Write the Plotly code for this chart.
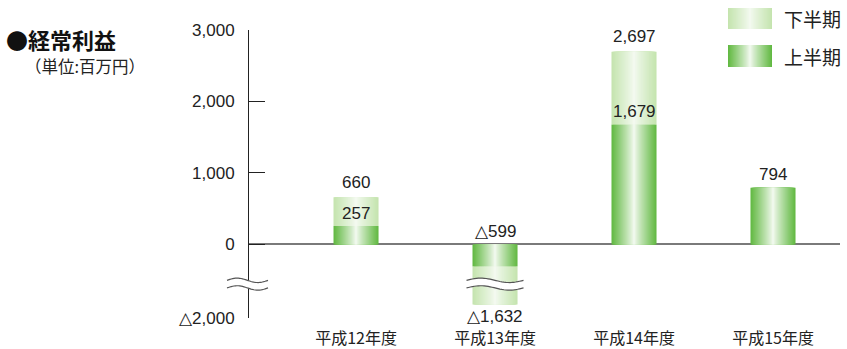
import numpy as np
import plotly.graph_objects as go

# ---- data (百万円) ----
categories = ["平成12年度", "平成13年度", "平成14年度", "平成15年度"]
first_half = [257, -599, 1679, 794]        # 上半期
full_year = [660, -1632, 2697, None]       # 通期 (上半期 + 下半期)
tick_values = [3000, 2000, 1000, 0, -2000]

# ---- layout constants ----
W, H = 847, 349
M_L, M_R, M_T, M_B = 249, 7, 30, 31
NEG_SCALE = 0.515          # negative side of the axis is compressed (broken axis)
BREAK_AT = -1080           # where the axis break is drawn
BAR_W = 0.324
X_RANGE = [-0.77, 3.482]
N_LAYERS = 24

NUM_FONT = "Liberation Sans, Arial, sans-serif"
JP_FONT = "Noto Sans CJK JP, sans-serif"
TXT = "#222222"

DARK_EDGE = np.array([96, 184, 64])
LIGHT_EDGE = np.array([196, 228, 174])
CENTER = np.array([244, 250, 241])


def to_axis(v):
    return v if v >= 0 else v * NEG_SCALE


def fmt(v):
    s = f"{abs(v):,}"
    return "△" + s if v < 0 else s


def shade(edge, t):
    m = t ** 0.9
    c = CENTER * (1 - m) + edge * m
    return "rgb(%d,%d,%d)" % tuple(np.round(c).astype(int))


y_min = to_axis(min(tick_values))
y_max = max(tick_values)
plot_w = W - M_L - M_R
plot_h = H - M_T - M_B


def px_x(px):
    return (px - M_L) / plot_w


def px_y(py):
    return (H - M_B - py) / plot_h


def axis_to_paper_y(v):
    return (v - y_min) / (y_max - y_min)


xs = list(range(len(categories)))
fig = go.Figure()

# light segments (下半期) span from first-half value to full-year value
lx, lbase, lh = [], [], []
for i, (a, b) in enumerate(zip(first_half, full_year)):
    if b is not None:
        lx.append(i)
        lbase.append(to_axis(a))
        lh.append(to_axis(b) - to_axis(a))
dy = [to_axis(v) for v in first_half]

# gradient: narrower, lighter bars stacked over wider, greener ones
for k in range(N_LAYERS):
    frac = 1 - k / N_LAYERS
    t = frac - 0.5 / N_LAYERS
    fig.add_trace(go.Bar(x=xs, y=dy, base=[0] * len(xs), width=BAR_W * frac,
                         marker=dict(color=shade(DARK_EDGE, t), line=dict(width=0)),
                         hoverinfo="skip"))
    fig.add_trace(go.Bar(x=lx, y=lh, base=lbase, width=BAR_W * frac,
                         marker=dict(color=shade(LIGHT_EDGE, t), line=dict(width=0)),
                         hoverinfo="skip"))

LABEL_FONT = dict(family=NUM_FONT, size=17, color=TXT)
annotations = []
# value labels
for i, (a, b) in enumerate(zip(first_half, full_year)):
    annotations.append(dict(x=i, y=to_axis(max(a, 0)), text=fmt(a), showarrow=False,
                            yanchor="middle", yshift=13, font=LABEL_FONT))
    if b is not None:
        annotations.append(dict(x=i, y=to_axis(b), text=fmt(b), showarrow=False,
                                yanchor="middle", yshift=15 if b > 0 else -12,
                                font=LABEL_FONT))

# title
annotations.append(dict(xref="paper", yref="paper", x=px_x(4), y=px_y(39),
                        xanchor="left", yanchor="middle", showarrow=False,
                        text="<b>●経常利益</b>",
                        font=dict(family=JP_FONT, size=22, color="#111111")))
annotations.append(dict(xref="paper", yref="paper", x=px_x(23), y=px_y(66),
                        xanchor="left", yanchor="middle", showarrow=False,
                        text="（単位:百万円）",
                        font=dict(family=JP_FONT, size=16.5, color=TXT)))

shapes = []
# legend swatches
legend_items = [("下半期", LIGHT_EDGE, 8, 29), ("上半期", DARK_EDGE, 45, 67)]
sx0, sx1 = 728, 772
for label, edge, py0, py1 in legend_items:
    cx = (sx0 + sx1) / 2
    half = (sx1 - sx0) / 2
    for k in range(N_LAYERS):
        frac = 1 - k / N_LAYERS
        t = frac - 0.5 / N_LAYERS
        shapes.append(dict(type="rect", xref="paper", yref="paper",
                           x0=px_x(cx - half * frac), x1=px_x(cx + half * frac),
                           y0=px_y(py1), y1=px_y(py0),
                           fillcolor=shade(edge, t), line=dict(width=0), layer="above"))
    annotations.append(dict(xref="paper", yref="paper", x=px_x(782), y=px_y((py0 + py1) / 2),
                            xanchor="left", yanchor="middle", showarrow=False, text=label,
                            font=dict(family=JP_FONT, size=19, color=TXT)))


def wave_path(x0, x1, yc, amp, n=30):
    t = np.linspace(0, 1, n)
    wx = x0 + (x1 - x0) * t
    wy = yc + amp * np.sin(2 * np.pi * t)
    return wx, wy


def add_break(x0, x1, yc, gap, amp, xref, yref):
    ax, ay = wave_path(x0, x1, yc + gap, amp)
    bx, by = wave_path(x0, x1, yc - gap, amp)
    fill = "M " + " L ".join(f"{x},{y}" for x, y in zip(ax, ay))
    fill += " L " + " L ".join(f"{x},{y}" for x, y in zip(bx[::-1], by[::-1])) + " Z"
    shapes.append(dict(type="path", path=fill, xref=xref, yref=yref,
                       fillcolor="white", line=dict(width=0), layer="above"))
    for wx, wy in ((ax, ay), (bx, by)):
        p = "M " + " L ".join(f"{x},{y}" for x, y in zip(wx, wy))
        shapes.append(dict(type="path", path=p, xref=xref, yref=yref,
                           line=dict(color="#555555", width=1.2), layer="above"))


# break across the bar that passes the axis break
brk = to_axis(BREAK_AT)
unit_per_px = (y_max - y_min) / plot_h
for i, b in enumerate(full_year):
    if b is not None and b < BREAK_AT:
        add_break(i - 0.205, i + 0.205, brk, 3.8 * unit_per_px, 2.2 * unit_per_px, "x", "y")
# break on the value axis
add_break(px_x(227), px_x(268), axis_to_paper_y(brk), 3.8 / plot_h, 2.2 / plot_h,
          "paper", "paper")

fig.update_layout(
    width=W, height=H,
    margin=dict(l=M_L, r=M_R, t=M_T, b=M_B, autoexpand=False),
    paper_bgcolor="white", plot_bgcolor="white",
    barmode="overlay", showlegend=False,
    annotations=annotations, shapes=shapes,
    xaxis=dict(range=X_RANGE, tickvals=xs, ticktext=categories, automargin=False,
               showline=False, showgrid=False, zeroline=False,
               ticks="outside", ticklen=0, tickcolor="rgba(0,0,0,0)",
               ticklabelstandoff=6,
               tickfont=dict(family=JP_FONT, size=16, color=TXT)),
    yaxis=dict(range=[y_min, y_max], automargin=False,
               tickvals=[to_axis(v) for v in tick_values],
               ticktext=[fmt(v) for v in tick_values],
               showline=True, linecolor="#222222", linewidth=1,
               ticks="inside", ticklen=16, tickcolor="#222222", tickwidth=1,
               ticklabelstandoff=10,
               showgrid=False, zeroline=True, zerolinecolor="#7a7a7a", zerolinewidth=1.6,
               tickfont=dict(family=NUM_FONT, size=17, color=TXT)),
)

fig.write_html("out.html")
